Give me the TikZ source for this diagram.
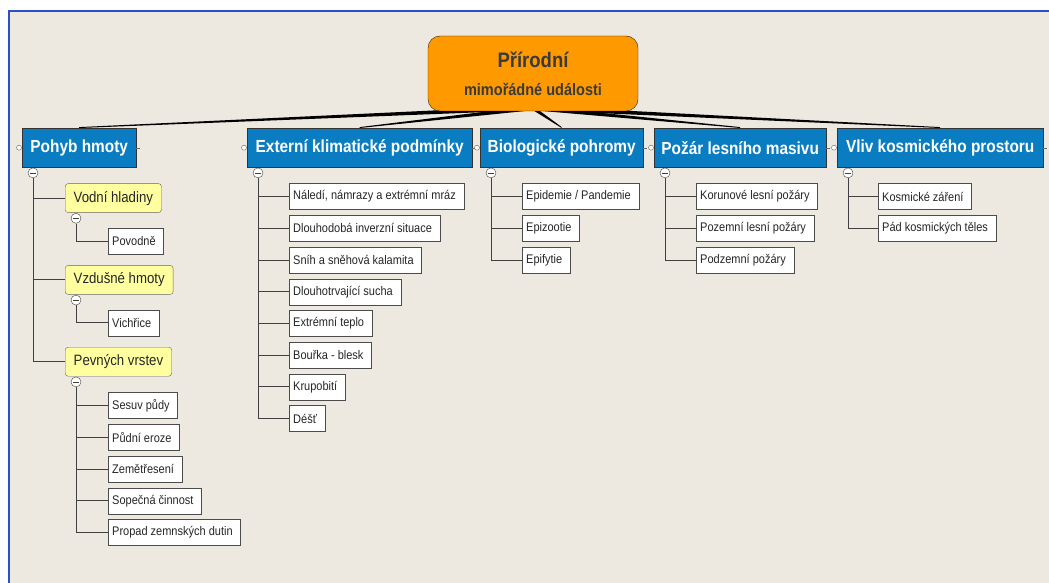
\documentclass[tikz,border=0pt]{standalone}
\usepackage{fontspec}
\newfontfamily\mapfont[FakeStretch=0.88]{Liberation Sans}
\usetikzlibrary{positioning, calc}
\definecolor{paper}{HTML}{EDE9E0}
\definecolor{frameblue}{HTML}{2A52C4}
\definecolor{topicblue}{HTML}{0A7DC2}
\definecolor{subyellow}{HTML}{FFFFA0}
\definecolor{rootorange}{HTML}{FF9900}
\definecolor{inkgray}{HTML}{3A3A3A}
\tikzstyle{root} = [rectangle, rounded corners=12pt, minimum width=210pt, minimum height=75pt, align=center, draw=black!75!brown, fill=rootorange, text=inkgray, font=\mapfont\bfseries\fontsize{16.5}{28}\selectfont]
\tikzstyle{topic} = [rectangle, minimum height=39pt, draw=black!80, fill=topicblue, text=white, font=\mapfont\bfseries\fontsize{17.5}{20}\selectfont, anchor=north west, inner sep=0pt]
\tikzstyle{sub} = [rectangle, rounded corners=3pt, minimum height=29pt, draw=black!60, fill=subyellow, font=\mapfont\fontsize{15}{18}\selectfont, anchor=north west, inner xsep=8.5pt, text=black!85]
\tikzstyle{leaf} = [rectangle, minimum height=26pt, draw=black!70, fill=white, font=\mapfont\fontsize{12.5}{15}\selectfont, inner xsep=4pt, execute at end node={\hspace*{4pt}}, text=black!85]
\tikzstyle{minusbtn} = [circle, minimum size=10pt, inner sep=0pt, draw=black!75, fill=white, path picture={\draw[black!75, line width=0.8pt] ([xshift=2.2pt]path picture bounding box.west) -- ([xshift=-2.2pt]path picture bounding box.east);}]
\tikzstyle{knob} = [circle, minimum size=5pt, inner sep=0pt, draw=black!60, fill=white]
\tikzstyle{branch} = [draw=black!75, line width=1pt]
\tikzstyle{rootline} = [fill=black]
\begin{document}
\begin{tikzpicture}[x=1pt, y=-1pt]
\useasboundingbox (0,0) rectangle (1049,583);
\fill[white] (0,0) rectangle (1049,583);
\fill[paper] (9,11) rectangle (1049,583);
\draw[frameblue, line width=1.5pt] (9,583) -- (9,11) -- (1049,11);

\node[topic, minimum width=114pt] (t1) at (22,128) {Pohyb hmoty};
\node[topic, minimum width=225pt] (t2) at (247,128) {Externí klimatické podmínky};
\node[topic, minimum width=163pt] (t3) at (480,128) {Biologické pohromy};
\node[topic, minimum width=172pt] (t4) at (654,128) {Požár lesního masivu};
\node[topic, minimum width=206pt] (t5) at (837,128) {Vliv kosmického prostoru};
\foreach \t in {t1,t2,t3,t4,t5} {
  \node[minusbtn] (\t m) at ($(\t.south west)+(11,5.5)$) {};
  \node[knob] (\t k) at ($(\t.west)+(-3,0)$) {};
  \draw[black!60] (\t.east) -- ++(4,0);
}

\coordinate (rc) at (533,108);
\foreach \t in {t1,t2,t3,t4,t5}
  \fill[rootline] ($(rc)+(0,-2.2)$) -- ($(\t.north)+(0,-0.9)$) -- (\t.north) -- ($(rc)+(0,2.2)$) -- cycle;
\node[root] (root) at (533,73.5) {\fontsize{21}{28}\selectfont Přírodní\\mimořádné události};

\node[sub] (s1) at ($(t1.south west)+(43,16)$) {Vodní hladiny};
\node[minusbtn] (s1m) at ($(s1.south west)+(11,5.5)$) {};
\node[leaf, anchor=north west] (p1) at ($(s1.south west)+(43,15)$) {Povodně};
\node[sub] (s2) at ($(p1.south west)+(-43,11)$) {Vzdušné hmoty};
\node[minusbtn] (s2m) at ($(s2.south west)+(11,5.5)$) {};
\node[leaf, anchor=north west] (p2) at ($(s2.south west)+(43,15)$) {Vichřice};
\node[sub] (s3) at ($(p2.south west)+(-43,11)$) {Pevných vrstev};
\node[minusbtn] (s3m) at ($(s3.south west)+(11,5.5)$) {};
\node[leaf, anchor=north west] (p3) at ($(s3.south west)+(43,16)$) {Sesuv půdy};
\node[leaf, below=5.3pt of p3.south west, anchor=north west] (p4) {Půdní eroze};
\node[leaf, below=5.3pt of p4.south west, anchor=north west] (p5) {Zemětřesení};
\node[leaf, below=5.3pt of p5.south west, anchor=north west] (p6) {Sopečná činnost};
\node[leaf, below=5.3pt of p6.south west, anchor=north west] (p7) {Propad zemnských dutin};

\node[leaf, anchor=north west] (e1) at ($(t2.south west)+(42,16)$) {Náledí, námrazy a extrémní mráz};
\node[leaf, below=5.3pt of e1.south west, anchor=north west] (e2) {Dlouhodobá inverzní situace};
\node[leaf, below=5.3pt of e2.south west, anchor=north west] (e3) {Sníh a sněhová kalamita};
\node[leaf, below=5.3pt of e3.south west, anchor=north west] (e4) {Dlouhotrvající sucha};
\node[leaf, below=5.3pt of e4.south west, anchor=north west] (e5) {Extrémní teplo};
\node[leaf, below=5.3pt of e5.south west, anchor=north west] (e6) {Bouřka - blesk};
\node[leaf, below=5.3pt of e6.south west, anchor=north west] (e7) {Krupobití};
\node[leaf, below=5.3pt of e7.south west, anchor=north west] (e8) {Déšť};

\node[leaf, anchor=north west] (b1) at ($(t3.south west)+(42,16)$) {Epidemie / Pandemie};
\node[leaf, below=5.3pt of b1.south west, anchor=north west] (b2) {Epizootie};
\node[leaf, below=5.3pt of b2.south west, anchor=north west] (b3) {Epifytie};

\node[leaf, anchor=north west] (f1) at ($(t4.south west)+(42,16)$) {Korunové lesní požáry};
\node[leaf, below=5.3pt of f1.south west, anchor=north west] (f2) {Pozemní lesní požáry};
\node[leaf, below=5.3pt of f2.south west, anchor=north west] (f3) {Podzemní požáry};

\node[leaf, anchor=north west] (k1) at ($(t5.south west)+(41,16)$) {Kosmické záření};
\node[leaf, below=5.3pt of k1.south west, anchor=north west] (k2) {Pád kosmických těles};

\foreach \n in {1,2,3} \draw[branch] (t1m.south) |- (s\n.west);
\draw[branch] (s1m.south) |- (p1.west);
\draw[branch] (s2m.south) |- (p2.west);
\foreach \n in {3,...,7} \draw[branch] (s3m.south) |- (p\n.west);
\foreach \n in {1,...,8} \draw[branch] (t2m.south) |- (e\n.west);
\foreach \n in {1,2,3} \draw[branch] (t3m.south) |- (b\n.west);
\foreach \n in {1,2,3} \draw[branch] (t4m.south) |- (f\n.west);
\foreach \n in {1,2} \draw[branch] (t5m.south) |- (k\n.west);
\end{tikzpicture}
\end{document}
